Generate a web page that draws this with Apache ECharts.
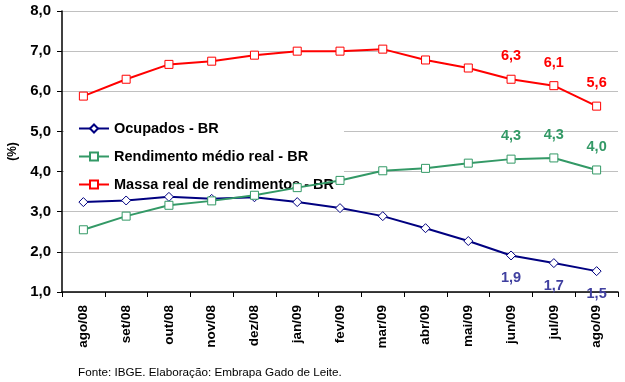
<!DOCTYPE html>
<html><head><meta charset="utf-8">
<script src="https://cdn.jsdelivr.net/npm/echarts@6/dist/echarts.min.js"></script>
<style>html,body{margin:0;padding:0;background:#fff}#c{width:625px;height:382px}</style>
</head><body><div id="c"></div>
<script>
var categories = ['ago/08','set/08','out/08','nov/08','dez/08','jan/09','fev/09','mar/09','abr/09','mai/09','jun/09','jul/09','ago/09'];
var ocupados = [3.24,3.28,3.37,3.32,3.36,3.24,3.09,2.89,2.59,2.27,1.91,1.72,1.52];
var rendimento = [2.55,2.89,3.16,3.27,3.41,3.60,3.78,4.02,4.08,4.21,4.31,4.34,4.04];
var massa = [5.88,6.30,6.67,6.75,6.90,7.00,7.00,7.05,6.78,6.58,6.30,6.14,5.63];
var yTicks = [1,2,3,4,5,6,7,8];
var labelFrom = 10;

var FF = 'Arial, Liberation Sans, sans-serif';
function fmt(v){ return v.toFixed(1).replace('.', ','); }
function mk(arr, pos, color, dist){
  return arr.map(function(v,i){
    return {value:v, label:{show:i>=labelFrom, position:pos, distance:dist, color:color,
      fontWeight:'bold', fontSize:14.5, fontFamily:FF,
      formatter:function(p){return fmt(p.value);}}};
  });
}
var chart = echarts.init(document.getElementById('c'), null, {renderer:'canvas'});
chart.setOption({
  animation:false,
  backgroundColor:'#fff',
  textStyle:{fontFamily:FF},
  grid:{left:62, right:7, top:11, bottom:90, containLabel:false, outerBoundsMode:'none'},
  legend:{
    orient:'vertical', left:64, top:113, z:1,
    backgroundColor:'#fff', padding:[8,10,8,14], itemGap:13,
    itemWidth:30, itemHeight:10,
    textStyle:{fontSize:14.5, fontWeight:'bold', color:'#000', fontFamily:FF},
    data:['Ocupados - BR','Rendimento médio real - BR','Massa real de rendimentos - BR']
  },
  graphic:[
    {type:'text', left:78, top:367, style:{text:'Fonte: IBGE. Elaboração: Embrapa Gado de Leite.', fontSize:11.7, fill:'#000', fontFamily:FF}}
  ],
  xAxis:{
    type:'category', data:categories, boundaryGap:true,
    axisLine:{lineStyle:{color:'#000', width:1.5}},
    axisTick:{show:true, length:5, lineStyle:{color:'#000'}},
    axisLabel:{rotate:90, color:'#000', fontWeight:'bold', fontSize:13.5, margin:13, fontFamily:FF}
  },
  yAxis:{
    type:'value', min:yTicks[0], max:yTicks[yTicks.length-1], interval:1,
    name:'(%)', nameLocation:'middle', nameGap:43, nameRotate:90,
    nameTextStyle:{color:'#000', fontWeight:'bold', fontSize:12},
    axisLine:{show:true, lineStyle:{color:'#000', width:1.5}},
    axisTick:{show:true, length:5, lineStyle:{color:'#000'}},
    axisLabel:{color:'#000', fontWeight:'bold', fontSize:15, margin:11, formatter:function(v){return fmt(v);}},
    splitLine:{show:true, lineStyle:{color:'#c0c0c0', width:1}}
  },
  series:[
    {name:'Ocupados - BR', type:'line', z:3, data:mk(ocupados,'bottom','#4040a0',10),
     symbol:'diamond', symbolSize:9, showAllSymbol:true,
     lineStyle:{color:'#000080', width:2}, itemStyle:{color:'#fff', borderColor:'#000080', borderWidth:1}},
    {name:'Rendimento médio real - BR', type:'line', z:3, data:mk(rendimento,'top','#339966',11),
     symbol:'rect', symbolSize:8, showAllSymbol:true,
     lineStyle:{color:'#339966', width:2}, itemStyle:{color:'#fff', borderColor:'#339966', borderWidth:1}},
    {name:'Massa real de rendimentos - BR', type:'line', z:3, data:mk(massa,'top','#ff0000',11),
     symbol:'rect', symbolSize:8, showAllSymbol:true,
     lineStyle:{color:'#ff0000', width:2}, itemStyle:{color:'#fff', borderColor:'#ff0000', borderWidth:1}}
  ]
});
</script></body></html>
